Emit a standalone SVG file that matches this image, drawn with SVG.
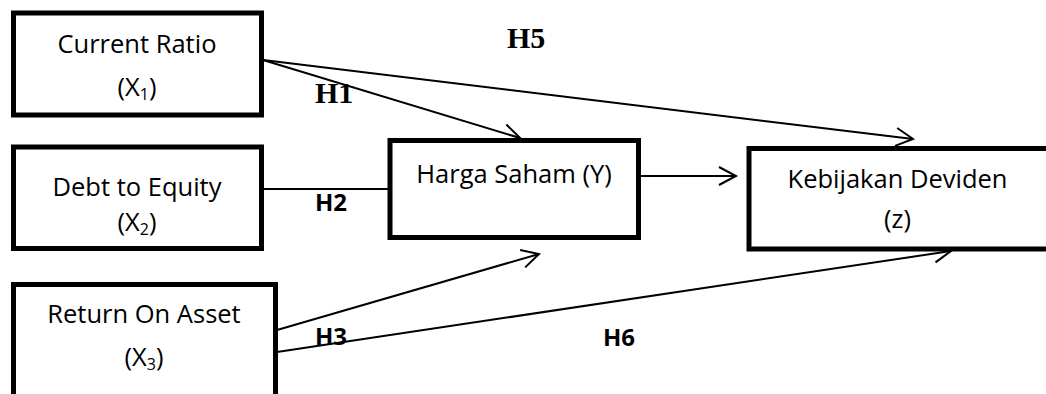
<svg xmlns="http://www.w3.org/2000/svg" width="1046" height="394" viewBox="0 0 1046 394">
  <style>
    .box { fill: #ffffff; stroke: #000000; stroke-width: 5; }
    .lbl { font-family: "Open Sans", "Noto Sans", sans-serif; font-size: 25.5px; fill: #000000; text-anchor: middle; }
    .sub { font-size: 16px; }
    .hs { font-family: "Open Sans", "Noto Sans", sans-serif; font-size: 24px; font-weight: bold; fill: #000000; }
    .hr { font-family: "Liberation Serif", "Times New Roman", serif; font-size: 30px; font-weight: bold; fill: #000000; }
    .edge { fill: none; stroke: #000000; stroke-width: 2; }
  </style>
  <defs>
    <marker id="open-arrow" markerUnits="userSpaceOnUse" markerWidth="40" markerHeight="40" refX="0" refY="0" viewBox="-20 -20 40 40" orient="auto" overflow="visible">
      <path d="M -17 -9 L 0 0 L -17 9" fill="none" stroke="#000000" stroke-width="2"/>
    </marker>
  </defs>
  <rect width="1046" height="394" fill="#ffffff"/>

  <!-- connectors -->
  <g id="connectors">
    <line class="edge" x1="263" y1="60" x2="913" y2="139" marker-end="url(#open-arrow)"/>
    <line class="edge" x1="263" y1="60" x2="520" y2="138" marker-end="url(#open-arrow)"/>
    <line class="edge" x1="262" y1="189" x2="390" y2="189"/>
    <line class="edge" x1="640" y1="176" x2="736" y2="176" marker-end="url(#open-arrow)"/>
    <line class="edge" x1="277" y1="330" x2="539" y2="254" marker-end="url(#open-arrow)"/>
    <line class="edge" x1="277" y1="352" x2="951" y2="251" marker-end="url(#open-arrow)"/>
  </g>

  <g id="node-current-ratio">
    <rect class="box" x="13.5" y="13" width="248" height="102"/>
    <text class="lbl" x="137" y="53">Current Ratio</text>
    <text class="lbl" x="137" y="96">(X<tspan class="sub" dy="4">1</tspan><tspan dy="-4">)</tspan></text>
  </g>

  <g id="node-debt-equity">
    <rect class="box" x="13.5" y="147" width="248" height="101.5"/>
    <text class="lbl" x="137" y="196">Debt to Equity</text>
    <text class="lbl" x="137" y="231">(X<tspan class="sub" dy="4">2</tspan><tspan dy="-4">)</tspan></text>
  </g>

  <g id="node-roa">
    <rect class="box" x="13.5" y="284.5" width="262" height="130"/>
    <text class="lbl" x="144" y="323">Return On Asset</text>
    <text class="lbl" x="144" y="366">(X<tspan class="sub" dy="4">3</tspan><tspan dy="-4">)</tspan></text>
  </g>

  <g id="node-harga-saham">
    <rect class="box" x="390" y="140.5" width="248.5" height="97"/>
    <text class="lbl" x="514" y="183">Harga Saham (Y)</text>
  </g>

  <g id="node-kebijakan-deviden">
    <rect class="box" x="749" y="148.5" width="320" height="100.5"/>
    <text class="lbl" x="897.5" y="188">Kebijakan Deviden</text>
    <text class="lbl" x="897.5" y="228">(z)</text>
  </g>

  <!-- hypothesis labels -->
  <g id="labels">
    <text class="hr" x="507" y="48">H5</text>
    <text class="hr" x="315" y="103">H1</text>
    <text class="hs" x="315" y="211">H2</text>
    <text class="hs" x="315" y="345">H3</text>
    <text class="hs" x="603" y="346">H6</text>
  </g>
</svg>
